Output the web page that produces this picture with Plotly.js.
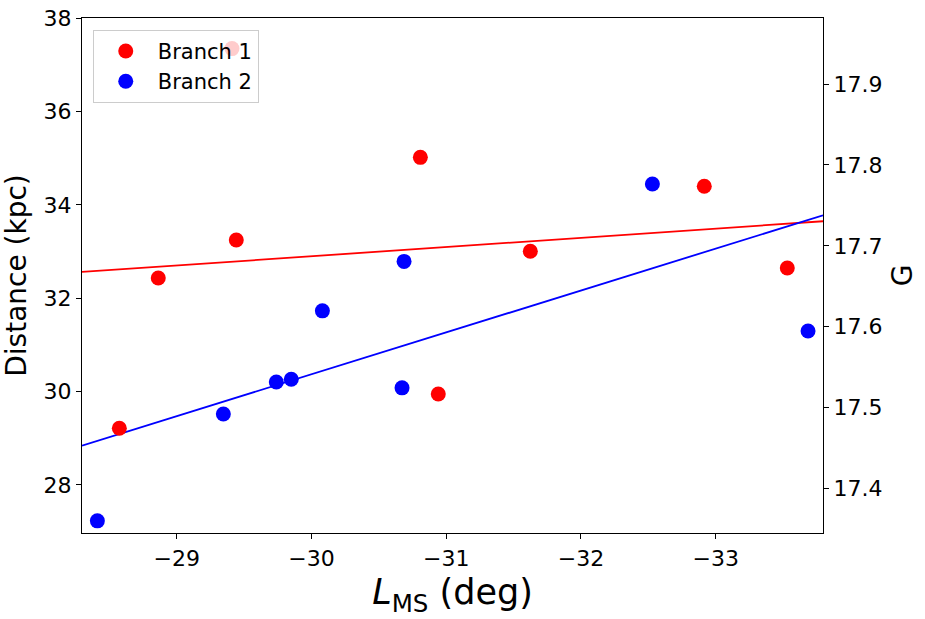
<!DOCTYPE html>
<html>
<head>
<meta charset="utf-8">
<script src="https://cdn.plot.ly/plotly-3.0.1.min.js"></script>
<style>html,body{margin:0;padding:0;background:#fff;}#plot{width:925px;height:619px;}</style>
</head>
<body>
<div id="plot"></div>
<script>
// Branch 1 (red)
const branch1L = [-28.574, -28.863, -29.41, -29.442, -30.808, -30.941, -31.624, -32.915, -33.531];
const branch1D = [29.215, 32.435, 37.35, 33.25, 35.02, 29.95, 33.007, 34.40, 32.65];
// Branch 2 (blue)
const branch2L = [-28.411, -29.346, -29.739, -29.85, -30.081, -30.687, -30.672, -32.53, -33.685];
const branch2D = [27.23, 29.52, 30.207, 30.265, 31.73, 32.79, 30.08, 34.45, 31.30];
// Fit lines (endpoints at the plot edges)
const fitL = [-28.297, -33.796];
const fit1D = [32.564, 33.65];
const fit2D = [28.842, 33.779];
// Right axis ticks
const gTicks = [17.4, 17.5, 17.6, 17.7, 17.8, 17.9];

const font = 'DejaVu Sans, sans-serif';

const traces = [
  {x: fitL, y: fit1D, mode: 'lines', line: {color: 'red', width: 1.8}, showlegend: false, hoverinfo: 'skip'},
  {x: fitL, y: fit2D, mode: 'lines', line: {color: 'blue', width: 1.8}, showlegend: false, hoverinfo: 'skip'},
  {x: branch1L, y: branch1D, mode: 'markers', name: 'Branch 1', marker: {color: 'red', size: 15}},
  {x: branch2L, y: branch2D, mode: 'markers', name: 'Branch 2', marker: {color: 'blue', size: 15}},
  {x: [null], y: [null], yaxis: 'y2', mode: 'markers', showlegend: false, hoverinfo: 'skip'}
];

const layout = {
  width: 925, height: 619,
  margin: {l: 82, r: 102, t: 18, b: 86, pad: 0},
  paper_bgcolor: '#fff', plot_bgcolor: '#fff',
  font: {family: font, color: '#000', size: 22},
  showlegend: true,
  legend: {
    x: 0.0145, y: 0.977, xanchor: 'left', yanchor: 'top',
    bgcolor: 'rgba(255,255,255,0.8)', bordercolor: '#cccccc', borderwidth: 1,
    font: {family: font, size: 21, color: '#000'},
    itemwidth: 54, tracegroupgap: 4
  },
  xaxis: {
    range: [-28.297, -33.796],
    tickmode: 'linear', tick0: -29, dtick: 1,
    ticks: 'outside', ticklen: 5, tickwidth: 1, tickcolor: '#000',
    showline: true, linecolor: '#000', linewidth: 1.2, mirror: true,
    showgrid: false, zeroline: false,
    tickfont: {family: font, size: 22, color: '#000'},
    title: {text: '<i>L</i><sub>MS</sub> (deg)', font: {family: font, size: 35, color: '#000'}, standoff: 10}
  },
  yaxis: {
    range: [26.97, 38.006],
    tickmode: 'linear', tick0: 28, dtick: 2,
    ticks: 'outside', ticklen: 5, tickwidth: 1, tickcolor: '#000',
    showline: true, linecolor: '#000', linewidth: 1.2, mirror: true,
    showgrid: false, zeroline: false,
    tickfont: {family: font, size: 22, color: '#000'},
    title: {text: 'Distance (kpc)', font: {family: font, size: 28, color: '#000'}, standoff: 8}
  },
  yaxis2: {
    overlaying: 'y', side: 'right', anchor: 'x',
    range: [17.345, 17.9816],
    tickmode: 'array', tickvals: gTicks, ticktext: gTicks.map(v => v.toFixed(1)),
    ticks: 'outside', ticklen: 5, tickwidth: 1, tickcolor: '#000',
    showline: true, linecolor: '#000', linewidth: 1.2,
    showgrid: false, zeroline: false,
    tickfont: {family: font, size: 22, color: '#000'},
    title: {text: 'G', font: {family: font, size: 28, color: '#000'}, standoff: 10}
  }
};

Plotly.newPlot('plot', traces, layout, {displayModeBar: false, staticPlot: true});
</script>
</body>
</html>
